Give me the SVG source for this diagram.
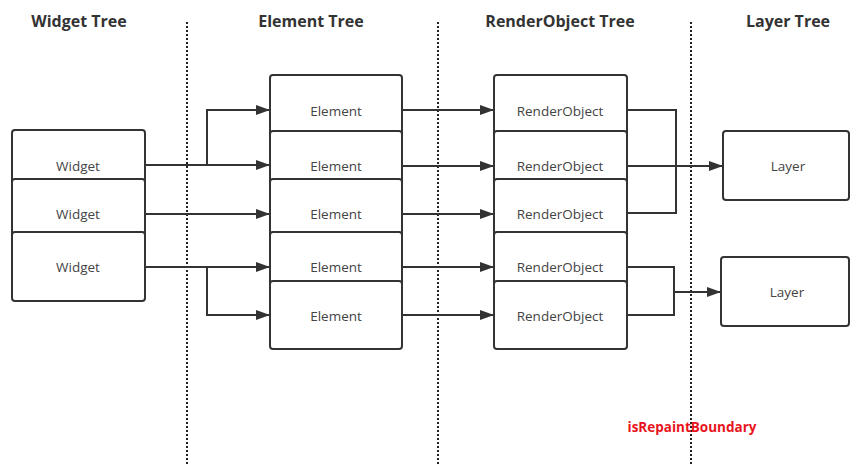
<svg xmlns="http://www.w3.org/2000/svg" width="850" height="465" viewBox="0 0 850 465">
<style>
.hdr{font-family:"Open Sans","Noto Sans",sans-serif;font-size:16px;font-weight:bold;fill:#333;text-anchor:middle}
.lbl{font-family:"Open Sans","Noto Sans",sans-serif;font-size:13.5px;fill:#444;text-anchor:middle;dominant-baseline:central}
.box{fill:#fff;stroke:#333;stroke-width:2}
.div{stroke:#222;stroke-width:2;stroke-dasharray:2 2;fill:none}
.con{fill:none;stroke:#333;stroke-width:2}
.red{font-family:"Open Sans","Noto Sans",sans-serif;font-size:13.5px;font-weight:bold;fill:#e8141c;text-anchor:middle;dominant-baseline:central}
</style>
<defs>
<marker id="arr" markerUnits="userSpaceOnUse" markerWidth="14" markerHeight="10" refX="14" refY="5" orient="auto">
<path d="M0,0 L14,5 L0,10 z" fill="#333"/>
</marker>
</defs>
<rect width="850" height="465" fill="#fff"/>
<g id="headers">
<text class="hdr" x="79" y="27">Widget Tree</text>
<text class="hdr" x="311" y="27">Element Tree</text>
<text class="hdr" x="560" y="27">RenderObject Tree</text>
<text class="hdr" x="788" y="27">Layer Tree</text>
</g>
<g id="dividers">
<line class="div" x1="187" y1="22" x2="187" y2="465"/>
<line class="div" x1="438" y1="22" x2="438" y2="465"/>
<line class="div" x1="691" y1="22" x2="691" y2="465"/>
</g>
<g id="widget1"><rect class="box" x="12" y="130" width="133" height="72" rx="3"/><text class="lbl" x="78" y="166">Widget</text></g>
<g id="widget2"><rect class="box" x="12" y="179" width="133" height="70" rx="3"/><text class="lbl" x="78" y="214">Widget</text></g>
<g id="widget3"><rect class="box" x="12" y="232" width="133" height="69" rx="3"/><text class="lbl" x="78" y="267">Widget</text></g>
<g id="element1"><rect class="box" x="270" y="75" width="132" height="72" rx="3"/><text class="lbl" x="336" y="111">Element</text></g>
<g id="element2"><rect class="box" x="270" y="131" width="132" height="70" rx="3"/><text class="lbl" x="336" y="166">Element</text></g>
<g id="element3"><rect class="box" x="270" y="179" width="132" height="70" rx="3"/><text class="lbl" x="336" y="214">Element</text></g>
<g id="element4"><rect class="box" x="270" y="232" width="132" height="70" rx="3"/><text class="lbl" x="336" y="267">Element</text></g>
<g id="element5"><rect class="box" x="270" y="281" width="132" height="68" rx="3"/><text class="lbl" x="336" y="316">Element</text></g>
<g id="render1"><rect class="box" x="494" y="75" width="133" height="72" rx="3"/><text class="lbl" x="560" y="111">RenderObject</text></g>
<g id="render2"><rect class="box" x="494" y="131" width="133" height="70" rx="3"/><text class="lbl" x="560" y="166">RenderObject</text></g>
<g id="render3"><rect class="box" x="494" y="179" width="133" height="70" rx="3"/><text class="lbl" x="560" y="214">RenderObject</text></g>
<g id="render4"><rect class="box" x="494" y="232" width="133" height="70" rx="3"/><text class="lbl" x="560" y="267">RenderObject</text></g>
<g id="render5"><rect class="box" x="494" y="281" width="133" height="68" rx="3"/><text class="lbl" x="560" y="316">RenderObject</text></g>
<g id="layer1"><rect class="box" x="723" y="131" width="126" height="69" rx="3"/><text class="lbl" x="788" y="166">Layer</text></g>
<g id="layer2"><rect class="box" x="721" y="257" width="128" height="69" rx="3"/><text class="lbl" x="787" y="292">Layer</text></g>
<g id="connectors">
<path class="con" d="M145,165 H270" marker-end="url(#arr)"/>
<path class="con" d="M207,165 V110 H270" marker-end="url(#arr)"/>
<path class="con" d="M145,214 H270" marker-end="url(#arr)"/>
<path class="con" d="M145,267 H270" marker-end="url(#arr)"/>
<path class="con" d="M207,267 V315 H270" marker-end="url(#arr)"/>
<path class="con" d="M402,110 H494" marker-end="url(#arr)"/>
<path class="con" d="M402,166 H494" marker-end="url(#arr)"/>
<path class="con" d="M402,214 H494" marker-end="url(#arr)"/>
<path class="con" d="M402,267 H494" marker-end="url(#arr)"/>
<path class="con" d="M402,315 H494" marker-end="url(#arr)"/>
<path class="con" d="M627,110 H676 V213 H627"/>
<path class="con" d="M627,166 H723" marker-end="url(#arr)"/>
<path class="con" d="M627,267 H674 V315 H627"/>
<path class="con" d="M674,292 H721" marker-end="url(#arr)"/>
</g>
<text class="red" x="692" y="427">isRepaintBoundary</text>
</svg>
